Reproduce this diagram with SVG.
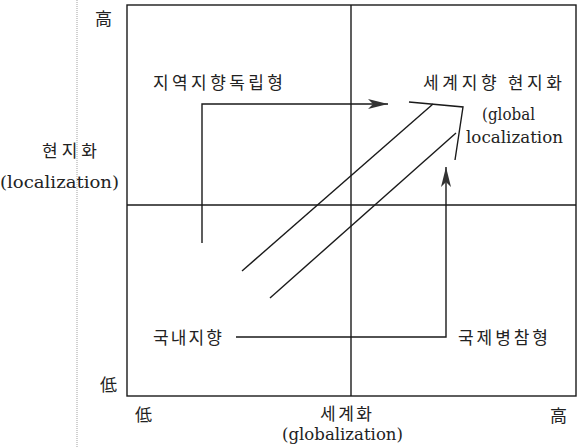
<svg xmlns="http://www.w3.org/2000/svg" width="581" height="448" viewBox="0 0 581 448">
<style>
.kr{font-family:"Noto Sans CJK KR","Noto Sans CJK SC",sans-serif;font-size:17px;fill:#222}
.lt{font-family:"DejaVu Serif","Liberation Serif",serif;font-size:17px;fill:#222}
.ln{stroke:#1a1a1a;stroke-width:1.4;fill:none}
</style>
<defs>
<marker id="ah" viewBox="0 0 20 10" refX="20" refY="5" markerWidth="20" markerHeight="10" markerUnits="userSpaceOnUse" orient="auto">
<path d="M0,0 L20,5 L0,10 L5,5 Z" fill="#333"/>
</marker>
</defs>
<rect width="581" height="448" fill="#fff"/>
<line x1="77" y1="0" x2="77" y2="448" stroke="#d0d0d0" stroke-width="2" stroke-dasharray="1 1"/>
<g id="frame">
<rect x="127" y="5" width="449" height="391" class="ln"/>
<line x1="351" y1="5" x2="351" y2="396" class="ln"/>
<line x1="127" y1="205" x2="576" y2="205" class="ln"/>
</g>
<g id="axis-labels">
<text class="kr" x="95" y="25">高</text>
<text class="kr" x="42" y="157" textLength="55" lengthAdjust="spacing">현지화</text>
<text class="lt" x="0" y="188" textLength="119" lengthAdjust="spacingAndGlyphs">(localization)</text>
<text class="kr" x="100" y="391">低</text>
<text class="kr" x="135" y="421">低</text>
<text class="kr" x="320" y="420" textLength="52" lengthAdjust="spacing">세계화</text>
<text class="lt" x="282" y="440" textLength="121" lengthAdjust="spacingAndGlyphs">(globalization)</text>
<text class="kr" x="550" y="422">高</text>
</g>
<g id="node-regional">
<text class="kr" x="153" y="89" textLength="130" lengthAdjust="spacing">지역지향독립형</text>
</g>
<g id="node-global-local">
<text class="kr" x="423" y="89" textLength="139" lengthAdjust="spacing">세계지향 현지화</text>
<text class="lt" x="482" y="120" textLength="53" lengthAdjust="spacingAndGlyphs">(global</text>
<text class="lt" x="466" y="143" textLength="97" lengthAdjust="spacingAndGlyphs">localization</text>
</g>
<g id="node-domestic">
<text class="kr" x="153" y="344" textLength="69" lengthAdjust="spacing">국내지향</text>
</g>
<g id="node-international">
<text class="kr" x="458" y="344" textLength="90" lengthAdjust="spacing">국제병참형</text>
</g>
<g id="connectors">
<polyline class="ln" points="202,243 202,104 388,104" marker-end="url(#ah)"/>
<polyline class="ln" points="236,337 446,337 446,167" marker-end="url(#ah)"/>
<line class="ln" x1="242" y1="271" x2="433" y2="104"/>
<line class="ln" x1="270" y1="298" x2="456" y2="133"/>
<polyline class="ln" points="409,102 463,107 455,160"/>
</g>
</svg>
